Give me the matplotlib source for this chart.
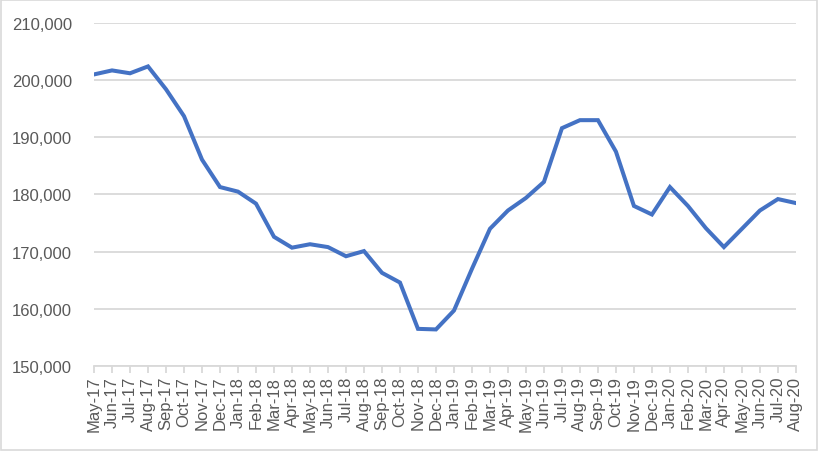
import matplotlib.pyplot as plt
from matplotlib.ticker import FuncFormatter
from matplotlib.patches import Rectangle

months = ['May-17', 'Jun-17', 'Jul-17', 'Aug-17', 'Sep-17', 'Oct-17', 'Nov-17', 'Dec-17',
          'Jan-18', 'Feb-18', 'Mar-18', 'Apr-18', 'May-18', 'Jun-18', 'Jul-18', 'Aug-18',
          'Sep-18', 'Oct-18', 'Nov-18', 'Dec-18',
          'Jan-19', 'Feb-19', 'Mar-19', 'Apr-19', 'May-19', 'Jun-19', 'Jul-19', 'Aug-19',
          'Sep-19', 'Oct-19', 'Nov-19', 'Dec-19',
          'Jan-20', 'Feb-20', 'Mar-20', 'Apr-20', 'May-20', 'Jun-20', 'Jul-20', 'Aug-20']
values = [201000, 201700, 201200, 202400, 198400, 193700, 186100, 181300,
          180500, 178400, 172600, 170700, 171300, 170800, 169200, 170100,
          166300, 164600, 156500, 156400,
          159700, 167000, 174000, 177200, 179400, 182200, 191600, 193000,
          193000, 187500, 178000, 176500,
          181300, 178000, 174100, 170800, 174000, 177200, 179200, 178500]
yticks = [150000, 160000, 170000, 180000, 190000, 200000, 210000]

plt.rcParams['font.family'] = ['Liberation Sans', 'DejaVu Sans']

fig = plt.figure(figsize=(8.19, 4.52), dpi=100)
ax = fig.add_axes([0.1148, 0.188, 0.857, 0.759])

x = list(range(len(months)))
ax.plot(x, values, color='#4472C4', linewidth=2.9, solid_joinstyle='miter')

ax.set_xlim(0, len(months) - 1)
ax.set_ylim(150000, 210000)
ax.set_yticks(yticks)
ax.yaxis.set_major_formatter(FuncFormatter(lambda v, p: '{:,.0f}'.format(v)))
ax.set_xticks(x)
ax.set_xticklabels(months, rotation=90)

ax.grid(axis='y', color='#d9d9d9', linewidth=1.3)
ax.set_axisbelow(True)
for s in ['top', 'right', 'left']:
    ax.spines[s].set_visible(False)
ax.spines['bottom'].set_color('#d9d9d9')
ax.spines['bottom'].set_linewidth(1.3)
ax.tick_params(axis='y', length=0, pad=16, labelsize=12, labelcolor='#595959')
ax.tick_params(axis='x', length=5, color='#d9d9d9', width=1.3, pad=2,
               labelsize=12, labelcolor='#595959')

# chart border
fig.patches.append(Rectangle((0.001, 0.002), 0.997, 0.995, transform=fig.transFigure,
                             fill=False, edgecolor='#d9d9d9', linewidth=1.2))

fig.savefig('out.png', dpi=100)
